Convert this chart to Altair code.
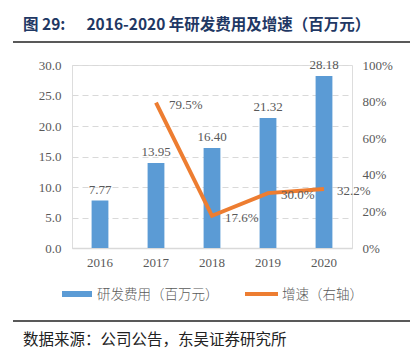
import altair as alt
import pandas as pd

years = ["2016", "2017", "2018", "2019", "2020"]
rd_expense = [7.77, 13.95, 16.40, 21.32, 28.18]
growth_years = ["2017", "2018", "2019", "2020"]
growth = [0.795, 0.176, 0.300, 0.322]

NB = "\u00a0"
title_text = "图 29:" + NB * 6 + "2016-2020 年研发费用及增速（百万元）"
source_text = "数据来源：公司公告，东吴证券研究所"
legend_bar = "研发费用（百万元）"
legend_line = "增速（右轴）"

BLUE = "#5B9BD5"
ORANGE = "#ED7D31"
GRAY = "#595959"
GRID = "#D9D9D9"
NUMFONT = "'Liberation Serif', 'DejaVu Serif', serif"
CJK = "'Noto Sans CJK SC', sans-serif"

bars_df = pd.DataFrame({"year": years, "value": rd_expense})
line_df = pd.DataFrame({"year": growth_years, "rate": growth})

W, H = 280, 183

xscale = alt.Scale(domain=years, paddingInner=0.7, paddingOuter=0.35)
xaxis = alt.Axis(title=None, labelAngle=0, ticks=False, domain=True, domainColor=GRID,
                 domainWidth=1.5, labelFont=NUMFONT, labelFontSize=13, labelColor=GRAY,
                 labelPadding=8, grid=False)
yl = alt.Scale(domain=[0, 30])
yl_axis = alt.Axis(title=None, values=[0, 5, 10, 15, 20, 25, 30], format=".1f",
                   ticks=False, domain=False, grid=True, gridColor=GRID,
                   gridDash=[6, 4], gridWidth=1, labelFont=NUMFONT, labelOverlap=False,
                   labelFontSize=13, labelColor=GRAY, labelPadding=11)

bars = alt.Chart(bars_df).mark_bar(color=BLUE).encode(
    x=alt.X("year:N", scale=xscale, axis=xaxis),
    y=alt.Y("value:Q", scale=yl, axis=yl_axis),
)
bar_labels = alt.Chart(bars_df).mark_text(
    dy=-11, font=NUMFONT, fontSize=13, color=GRAY
).encode(
    x=alt.X("year:N", scale=xscale, axis=xaxis),
    y=alt.Y("value:Q", scale=yl, axis=yl_axis),
    text=alt.Text("value:Q", format=".2f"),
)
left = alt.layer(bars, bar_labels)

yr = alt.Scale(domain=[0, 1])
yr_axis = alt.Axis(title=None, orient="right", values=[0, 0.2, 0.4, 0.6, 0.8, 1.0],
                   format=".0%", ticks=False, domain=False, grid=False, labelOverlap=False,
                   labelFont=NUMFONT, labelFontSize=13, labelColor=GRAY,
                   labelPadding=10)
line = alt.Chart(line_df).mark_line(color=ORANGE, strokeWidth=4).encode(
    x=alt.X("year:N", scale=xscale, axis=xaxis),
    y=alt.Y("rate:Q", scale=yr, axis=yr_axis),
)
line_labels = alt.Chart(line_df).mark_text(
    align="left", dx=13, dy=2, font=NUMFONT, fontSize=13, color=GRAY
).encode(
    x=alt.X("year:N", scale=xscale, axis=xaxis),
    y=alt.Y("rate:Q", scale=yr, axis=yr_axis),
    text=alt.Text("rate:Q", format=".1%"),
)
right = alt.layer(line, line_labels)

# decorations (title, rules, legend, source)
one = pd.DataFrame({"a": [0]})
title = alt.Chart(one).mark_text(align="left", baseline="middle", font=CJK, fontSize=15.5,
                                 fontWeight="bold", color="#1F3864").encode(
    x=alt.value(-49), y=alt.value(-40), text=alt.value(title_text))
top_rule = alt.Chart(one).mark_rule(color="#222222", strokeWidth=1.5).encode(
    x=alt.value(-59), x2=alt.value(338), y=alt.value(-23))
bottom_rule = alt.Chart(one).mark_rule(color="#222222", strokeWidth=1.5).encode(
    x=alt.value(-59), x2=alt.value(338), y=alt.value(256))
source = alt.Chart(one).mark_text(align="left", baseline="middle", font=CJK, fontSize=15.5,
                                  color="#222222").encode(
    x=alt.value(-49), y=alt.value(275), text=alt.value(source_text))
leg_bar_sw = alt.Chart(one).mark_rule(color=BLUE, strokeWidth=6).encode(
    x=alt.value(-10), x2=alt.value(20), y=alt.value(229))
leg_bar_tx = alt.Chart(one).mark_text(align="left", baseline="middle", font=CJK, fontSize=13.5,
                                      fontWeight=300, color=GRAY).encode(
    x=alt.value(25), y=alt.value(230), text=alt.value(legend_bar))
leg_line_sw = alt.Chart(one).mark_rule(color=ORANGE, strokeWidth=4).encode(
    x=alt.value(173), x2=alt.value(206), y=alt.value(229))
leg_line_tx = alt.Chart(one).mark_text(align="left", baseline="middle", font=CJK, fontSize=13.5,
                                       fontWeight=300, color=GRAY).encode(
    x=alt.value(210), y=alt.value(230), text=alt.value(legend_line))

chart = alt.layer(
    left, right, title, top_rule, bottom_rule, source,
    leg_bar_sw, leg_bar_tx, leg_line_sw, leg_line_tx
).resolve_scale(y="independent").properties(
    width=W, height=H,
    autosize=alt.AutoSizeParams(type="none"),
    padding={"left": 72, "top": 65, "right": 64, "bottom": 107},
).configure_view(stroke=None).configure(background="white")

chart.save("out.html", embed_options={"renderer": "svg", "actions": False})
